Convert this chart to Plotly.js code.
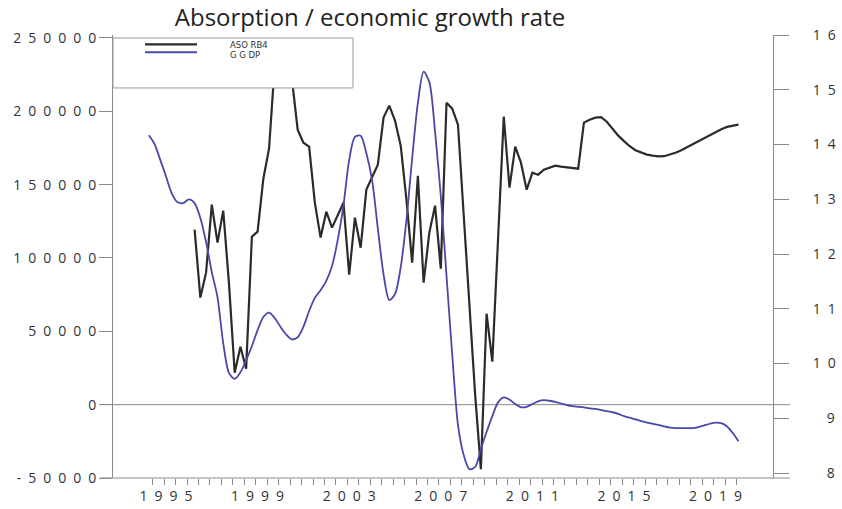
<!DOCTYPE html>
<html>
<head>
<meta charset="utf-8">
<script src="https://cdn.plot.ly/plotly-3.0.1.min.js"></script>
<style>html,body{margin:0;padding:0;background:#fff;}#chart{width:842px;height:509px;}</style>
</head>
<body>
<div id="chart"></div>
<script>
// Quarterly series
const absorbStart = 1996.25;
const absorbValues = [
  119300, 73000, 90000,
  136400, 110500, 132300, 82700,
  21800, 39500, 24500, 114500,
  118000, 154000, 174500, 232000,
  246000, 242000, 222000, 187500,
  178600, 175900, 137700, 113900,
  131600, 120700, 128900, 137700,
  88600, 127500, 107000, 146600,
  155000, 163600, 195700, 203900,
  193700, 176600, 139800, 96800,
  156100, 83200, 117300, 135700,
  92700, 205900, 201800, 190900,
  129500, 68200, 6800, -44000,
  62000, 29300, 114500, 196400,
  148000, 175900, 165000, 146600,
  158200, 156800, 160200, 161600,
  162900, 162300, 161900, 161200,
  160900, 192300, 194300, 195700,
  196000, 192900, 187800, 183400,
  179700, 176200, 173500, 171800,
  170500, 169800, 169300, 169400,
  170500, 171800, 173500, 175600,
  177600, 179700, 182000, 183900,
  185800, 187800, 189400, 190400,
  190900
];
const gdpStart = 1994.25;
const gdpValues = [
  14.17, 14.01, 13.72,
  13.42, 13.11, 12.95, 12.93,
  13.00, 12.93, 12.66, 12.22,
  11.67, 11.21, 10.37, 9.83,
  9.72, 9.84, 10.06, 10.32,
  10.61, 10.85, 10.93, 10.83,
  10.67, 10.53, 10.44, 10.48,
  10.67, 10.96, 11.20, 11.34,
  11.51, 11.78, 12.26, 12.89,
  13.72, 14.14, 14.16, 13.84,
  13.35, 12.47, 11.63, 11.16,
  11.27, 11.76, 12.62, 13.75,
  14.76, 15.33, 15.14, 14.23,
  13.06, 11.60, 10.16, 8.88,
  8.33, 8.07, 8.11, 8.44,
  8.75, 9.04, 9.29, 9.38,
  9.34, 9.26, 9.20, 9.21,
  9.26, 9.31, 9.33, 9.32,
  9.30, 9.27, 9.24, 9.22,
  9.21, 9.20, 9.18, 9.17,
  9.15, 9.13, 9.11, 9.08,
  9.04, 9.01, 8.98, 8.95,
  8.92, 8.90, 8.88, 8.85,
  8.83, 8.82, 8.82, 8.82,
  8.82, 8.84, 8.87, 8.90,
  8.92, 8.91, 8.85, 8.73,
  8.58
];
const xTickVals = [1995, 1999, 2003, 2007, 2011, 2015, 2019];
const xTickText = ["1995", "1999", "2003", "2007", "2011", "2015", "2019"];
const leftTickVals = [-50000, 0, 50000, 100000, 150000, 200000, 250000];
const leftTickText = ["-50000", "0", "50000", "100000", "150000", "200000", "250000"];
const rightTickVals = [8, 9, 10, 11, 12, 13, 14, 15, 16];
const rightTickText = ["8", "9", "10", "11", "12", "13", "14", "15", "16"];
const legendLabels = ["ASO RB4", "G G DP"];
const titleText = "Absorption / economic growth rate";

const SP = "\u2002";
function spaced(s) { return s.split("").join(SP); }
function padRight(s) { return s.length === 1 ? SP + SP + s : spaced(s); }

function quarters(start, n) { const a = []; for (let i = 0; i < n; i++) a.push(start + i * 0.25); return a; }
// half-year minor tick positions along the observed sample
const minorTicks = []; for (let t = 1994.42; t < 2020.0; t += 0.5) minorTicks.push(t);

const axisCol = "#8a8a8a";
const tickFont = {family: "Open Sans, DejaVu Sans, sans-serif", size: 14, color: "#333"};

const traces = [
  {x: quarters(absorbStart, absorbValues.length), y: absorbValues, type: "scatter", mode: "lines",
   line: {color: "#2b2b2b", width: 2.2}, yaxis: "y", name: legendLabels[0], hoverinfo: "skip"},
  {x: quarters(gdpStart, gdpValues.length), y: gdpValues, type: "scatter", mode: "lines",
   line: {color: "#4a48a8", width: 1.8, shape: "spline", smoothing: 0.8}, yaxis: "y2", name: legendLabels[1], hoverinfo: "skip"}
];

const layout = {
  width: 842, height: 509,
  margin: {l: 113, r: 69, t: 35, b: 31, pad: 0},
  paper_bgcolor: "#fff", plot_bgcolor: "#fff",
  showlegend: false,
  title: {text: titleText, x: 370 / 842, xanchor: "center", y: 1 - 18 / 509, yanchor: "middle",
          font: {family: "Open Sans, sans-serif", size: 24, color: "#222"}},
  xaxis: {range: [1992.686, 2021.507], showgrid: false, zeroline: false, showline: false,
          tickmode: "array", tickvals: xTickVals, ticktext: xTickText.map(spaced),
          ticks: "", ticklabelstandoff: 8, tickfont: tickFont,
          minor: {ticks: "outside", ticklen: 6, tickcolor: axisCol, tickwidth: 1, tickmode: "array", tickvals: minorTicks, showgrid: false}},
  yaxis: {range: [-50000, 252037], showgrid: false, zeroline: false, showline: true, linecolor: axisCol, linewidth: 1,
          tickmode: "array", tickvals: leftTickVals, ticktext: leftTickText.map(spaced),
          ticks: "outside", ticklen: 13, tickcolor: axisCol, tickfont: tickFont},
  yaxis2: {range: [7.909, 16.001], overlaying: "y", side: "right", showgrid: false, zeroline: false,
           showline: true, linecolor: axisCol, linewidth: 1,
           tickmode: "array", tickvals: rightTickVals, ticktext: rightTickText.map(padRight),
           ticks: "outside", ticklen: 15, tickcolor: axisCol, ticklabelstandoff: 21, tickfont: tickFont},
  shapes: [
    {type: "line", xref: "paper", yref: "y", x0: -0.0197, x1: 1.0258, y0: 0, y1: 0, line: {color: axisCol, width: 1}, layer: "below"},
    {type: "line", xref: "paper", yref: "paper", x0: -0.0197, x1: 1.0258, y0: 0, y1: 0, line: {color: axisCol, width: 1}, layer: "above"},
    {type: "rect", xref: "paper", yref: "paper", x0: 0, x1: 0.3636, y0: 0.8804, y1: 0.9932, fillcolor: "#fff", line: {color: "#9a9a9a", width: 1}, layer: "above"},
    {type: "line", xref: "paper", yref: "paper", x0: 0.0485, x1: 0.1273, y0: 0.979, y1: 0.979, line: {color: "#2b2b2b", width: 2.2}, layer: "above"},
    {type: "line", xref: "paper", yref: "paper", x0: 0.0485, x1: 0.1273, y0: 0.961, y1: 0.961, line: {color: "#4a48a8", width: 2}, layer: "above"}
  ],
  annotations: [
    {text: legendLabels[0], xref: "paper", yref: "paper", x: 0.1742, y: 0.9765, xanchor: "left", yanchor: "middle", showarrow: false,
     font: {family: "DejaVu Sans, sans-serif", size: 8.5, color: "#333"}},
    {text: legendLabels[1], xref: "paper", yref: "paper", x: 0.1742, y: 0.9540, xanchor: "left", yanchor: "middle", showarrow: false,
     font: {family: "DejaVu Sans, sans-serif", size: 8.5, color: "#333"}}
  ]
};

Plotly.newPlot("chart", traces, layout, {staticPlot: true, displayModeBar: false});
</script>
</body>
</html>
